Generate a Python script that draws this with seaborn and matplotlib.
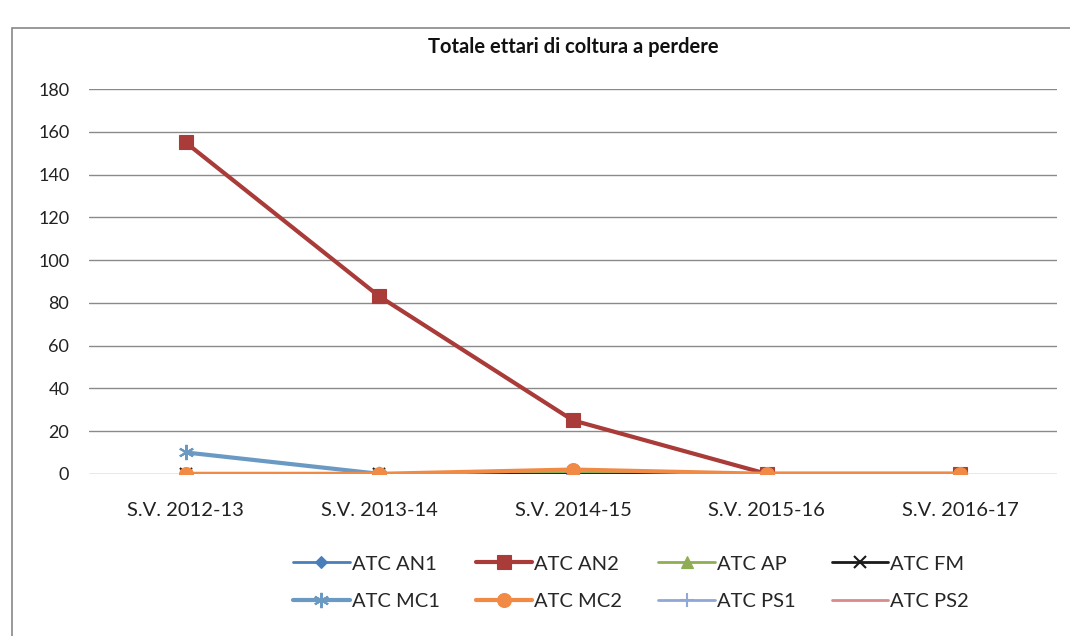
import matplotlib
matplotlib.use("Agg")
import matplotlib.pyplot as plt
import seaborn as sns
import pandas as pd
from matplotlib.patches import Rectangle

sns.set_style("white")
plt.rcParams["font.family"] = ["Lato", "DejaVu Sans"]

seasons = ["S.V. 2012-13", "S.V. 2013-14", "S.V. 2014-15", "S.V. 2015-16", "S.V. 2016-17"]
series_names = ["ATC AN1", "ATC AN2", "ATC AP", "ATC FM", "ATC MC1", "ATC MC2", "ATC PS1", "ATC PS2"]
an1 = [0, 0, 0, 0, 0]
an2 = [155, 83, 25, 0, 0]
ap = [0, 0, 0.5, 0, 0]
fm = [0, 0, 0, 0, 0]
mc1 = [10, 0, None, None, None]
mc2 = [0, 0, 2, 0, 0]
ps1 = [0, 0, 0, 0, 0]
ps2 = [0, 0, 0, 0, 0]
values = [an1, an2, ap, fm, mc1, mc2, ps1, ps2]

colors = ["#4A7EBB", "#A93B38", "#8FAE54", "#1a1a1a", "#6A9AC4", "#F08A45", "#8FA8D8", "#D98A8A"]
markers = ["D", "s", "^", "x", (6, 2, 0), "o", "+", None]
msizes = [6, 10, 8, 8, 11, 10, 10, 0]
zorders = [3, 4, 3, 3, 5, 6, 2, 2]

fig = plt.figure(figsize=(10.7, 6.36), dpi=100)
ax = fig.add_axes([0.083, 0.255, 0.905, 0.605])

for name, vals, c, m, ms, z in zip(series_names, values, colors, markers, msizes, zorders):
    df = pd.DataFrame({"season": seasons, "val": vals}).dropna()
    sns.lineplot(data=df, x="season", y="val", ax=ax, color=c,
                 lw=3 if name in ("ATC AN2", "ATC MC1", "ATC MC2") else 2,
                 marker=m, markersize=ms,
                 markeredgewidth=1.5 if m in ("x", "+", (6, 2, 0)) else 0.8,
                 markeredgecolor=c, label=name, zorder=z, sort=False)

ax.set_xlim(-0.5, 4.5)
ax.set_ylim(0, 180)
ax.set_yticks(range(0, 181, 20))
ax.yaxis.grid(True, color="#8a8a8a", lw=1)
ax.set_axisbelow(True)
for s in ax.spines.values():
    s.set_visible(False)
ax.set_xlabel("")
ax.set_ylabel("")
ax.tick_params(axis="both", length=0, colors="#222222")
ax.tick_params(axis="x", pad=20, labelsize=14.5)
ax.tick_params(axis="y", pad=14, labelsize=13)
ax.set_title("Totale ettari di coltura a perdere", fontsize=14.5, fontweight="bold", pad=26, color="#111111")

# legend filled row by row: 4 columns, 2 rows
handles, labels = ax.get_legend_handles_labels()
order = [0, 4, 1, 5, 2, 6, 3, 7]
ax.legend([handles[i] for i in order], [labels[i] for i in order],
          loc="upper center", bbox_to_anchor=(0.56, -0.165), ncol=4, frameon=False,
          fontsize=14.5, handlelength=2.8, handletextpad=0.1, columnspacing=1.8, labelspacing=1.0)

fig.patches.append(Rectangle((0.011, -0.01), 1.2, 0.966, transform=fig.transFigure,
                             fill=False, edgecolor="#888888", lw=1.2))

fig.savefig("out.png", dpi=100)
